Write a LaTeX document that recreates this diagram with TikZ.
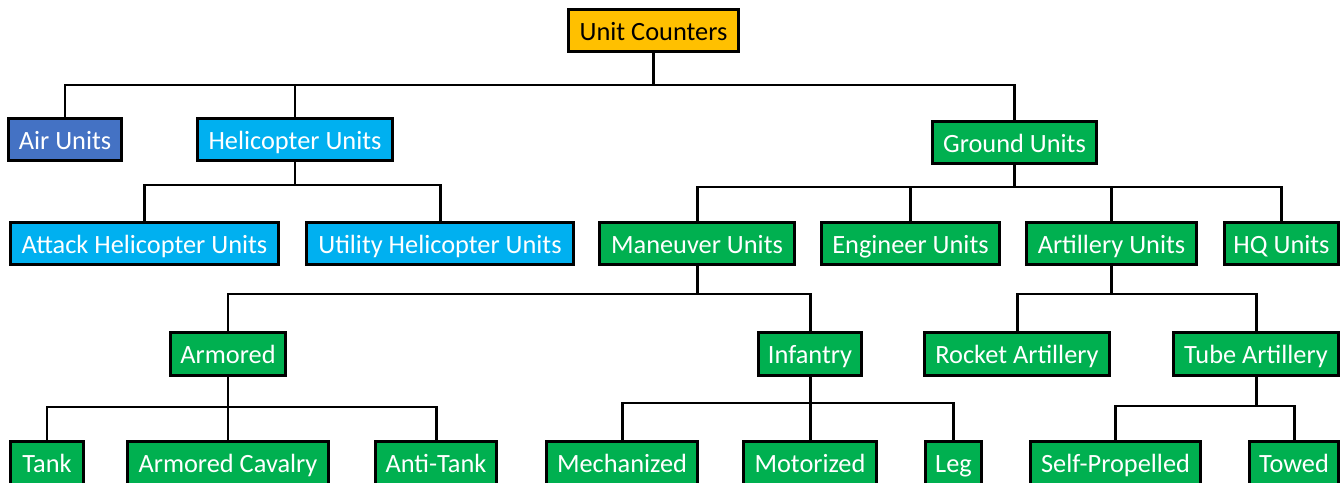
\documentclass[tikz,border=0pt]{standalone}
\usepackage{fontspec}
\setmainfont{Carlito}
\definecolor{groc}{HTML}{FFC000}
\definecolor{blauaire}{HTML}{4472C4}
\definecolor{blauheli}{HTML}{00B0F0}
\definecolor{verd}{HTML}{00B050}
\tikzset{
	caixa/.style = {draw = black, line width = 1.6pt, minimum height = 0.85cm, inner sep = 0pt, text height = 13pt, text depth = 2pt, text = white, fill = verd, font = \fontsize{15}{18}\selectfont},
	linia/.style = {draw = black, line width = 1.7pt}
}

\begin{document}
\begin{tikzpicture}[x = 0.02cm, y = -0.02cm]
			\useasboundingbox (0,0) rectangle (1341,483);
			% arrel
			\node[caixa, fill = groc, text = black, minimum width = 3.41cm] (comptadors) at (653.5, 30.5) {Unit Counters};
			% primer nivell
			\node[caixa, fill = blauaire, minimum width = 2.27cm] (aire) at (65, 139.5) {Air Units};
			\node[caixa, fill = blauheli, minimum width = 3.91cm] (heli) at (295, 139.5) {Helicopter Units};
			\node[caixa, minimum width = 3.29cm] (terra) at (1014.5, 142.5) {Ground Units};
			% segon nivell
			\node[caixa, fill = blauheli, minimum width = 5.37cm] (atac) at (144.5, 243.5) {Attack Helicopter Units};
			\node[caixa, fill = blauheli, minimum width = 5.35cm] (utilitat) at (440, 243.5) {Utility Helicopter Units};
			\node[caixa, minimum width = 3.91cm] (maniobra) at (697, 243.5) {Maneuver Units};
			\node[caixa, minimum width = 3.57cm] (enginyers) at (910.5, 243.5) {Engineer Units};
			\node[caixa, minimum width = 3.41cm] (artilleria) at (1111.5, 243.5) {Artillery Units};
			\node[caixa, minimum width = 2.29cm] (qg) at (1281.5, 243.5) {HQ Units};
			% tercer nivell
			\node[caixa, minimum width = 2.31cm] (blindat) at (228, 354) {Armored};
			\node[caixa, minimum width = 2.07cm] (infanteria) at (810, 354) {Infantry};
			\node[caixa, minimum width = 3.71cm] (coets) at (1017, 354) {Rocket Artillery};
			\node[caixa, minimum width = 3.31cm] (tub) at (1256, 354) {Tube Artillery};
			% quart nivell
			\node[caixa, minimum width = 1.47cm] (tanc) at (47, 463) {Tank};
			\node[caixa, minimum width = 4.01cm] (cavalleria) at (228, 463) {Armored Cavalry};
			\node[caixa, minimum width = 2.43cm] (antitanc) at (436, 463) {Anti-Tank};
			\node[caixa, minimum width = 3.03cm] (mecanitzada) at (622, 463) {Mechanized};
			\node[caixa, minimum width = 2.65cm] (motoritzada) at (810, 463) {Motorized};
			\node[caixa, minimum width = 1.13cm] (peu) at (953.5, 463) {Leg};
			\node[caixa, minimum width = 3.41cm] (autopropulsada) at (1115.5, 463) {Self-Propelled};
			\node[caixa, minimum width = 1.79cm] (remolcada) at (1294, 463) {Towed};
			% alcades de les barres
			\coordinate (barra1) at (0, 85);
			\coordinate (barra2) at (0, 185);
			\coordinate (barra3) at (0, 187);
			\coordinate (barra4) at (0, 294);
			\coordinate (barra5) at (0, 294);
			\coordinate (barra6) at (0, 407);
			\coordinate (barra7) at (0, 403);
			\coordinate (barra8) at (0, 406);
			% connexions arrel
			\draw[linia] (comptadors.south) -- (comptadors.south |- barra1) -| (aire.north);
			\draw[linia] (comptadors.south) -- (comptadors.south |- barra1) -| (heli.north);
			\draw[linia] (comptadors.south) -- (comptadors.south |- barra1) -| (terra.north);
			% connexions helicopters
			\draw[linia] (heli.south) -- (heli.south |- barra2) -| (atac.north);
			\draw[linia] (heli.south) -- (heli.south |- barra2) -| (utilitat.north);
			% connexions terra
			\draw[linia] (terra.south) -- (terra.south |- barra3) -| (maniobra.north);
			\draw[linia] (terra.south) -- (terra.south |- barra3) -| (enginyers.north);
			\draw[linia] (terra.south) -- (terra.south |- barra3) -| (artilleria.north);
			\draw[linia] (terra.south) -- (terra.south |- barra3) -| (qg.north);
			% connexions maniobra
			\draw[linia] (maniobra.south) -- (maniobra.south |- barra4) -| (blindat.north);
			\draw[linia] (maniobra.south) -- (maniobra.south |- barra4) -| (infanteria.north);
			% connexions artilleria
			\draw[linia] (artilleria.south) -- (artilleria.south |- barra5) -| (coets.north);
			\draw[linia] (artilleria.south) -- (artilleria.south |- barra5) -| (tub.north);
			% connexions blindat
			\draw[linia] (blindat.south) -- (blindat.south |- barra6) -| (tanc.north);
			\draw[linia] (blindat.south) -- (cavalleria.north);
			\draw[linia] (blindat.south) -- (blindat.south |- barra6) -| (antitanc.north);
			% connexions infanteria
			\draw[linia] (infanteria.south) -- (infanteria.south |- barra7) -| (mecanitzada.north);
			\draw[linia] (infanteria.south) -- (motoritzada.north);
			\draw[linia] (infanteria.south) -- (infanteria.south |- barra7) -| (peu.north);
			% connexions tub
			\draw[linia] (tub.south) -- (tub.south |- barra8) -| (autopropulsada.north);
			\draw[linia] (tub.south) -- (tub.south |- barra8) -| (remolcada.north);
		\end{tikzpicture}
\end{document}
